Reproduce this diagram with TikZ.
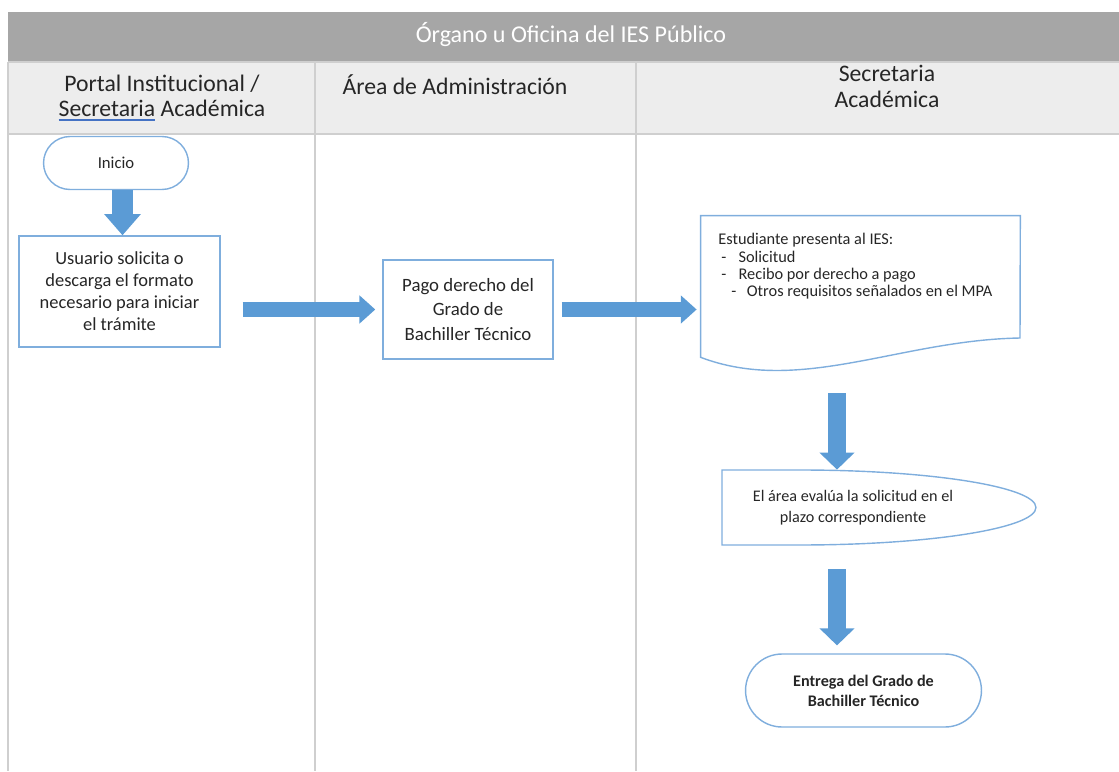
\documentclass[tikz,border=0pt]{standalone}
\usepackage{fontspec}
\setmainfont{Carlito}
\usepackage{tikz}
\usetikzlibrary{positioning,shapes.misc,arrows.meta,calc}

\definecolor{gristitulo}{HTML}{A6A6A6}
\definecolor{grisfila}{HTML}{EDEDED}
\definecolor{grislinea}{HTML}{CFCFCF}
\definecolor{azulborde}{HTML}{7FAEDD}
\definecolor{azulflecha}{HTML}{5B9BD5}
\definecolor{azulsub}{HTML}{4472C4}
\definecolor{texto}{HTML}{262626}

\newcommand{\subrayar}[1]{\setbox0\hbox{#1}\rlap{\color{azulsub}\rule[-2.6pt]{\wd0}{1.1pt}}#1}

\begin{document}
\begin{tikzpicture}[x=0.02cm,y=-0.02cm]
	\tikzset{
		caja/.style={draw=azulborde,line width=0.8pt,fill=white,align=center,text=texto,inner sep=2pt},
		terminal/.style={caja,rounded rectangle},
		cabecera/.style={align=center,text=texto,font=\fontsize{13.5}{14.5}\selectfont},
		linea/.style={draw=grislinea,line width=1pt},
		flecha/.style={draw=azulflecha,line width=9pt,-{Triangle[width=15.5pt,length=9pt]}},
		flechav/.style={draw=azulflecha,line width=10.2pt,-{Triangle[width=19.4pt,length=9.7pt]}}
	}
	\useasboundingbox (0,0) rectangle (1119,771);
	% tabla de carriles
	\fill[gristitulo] (8,12) rectangle (1119,62);
	\fill[grisfila] (8,62) rectangle (1119,134);
	\draw[linea] (8,62) -- (1119,62);
	\draw[linea] (8,134) -- (1119,134);
	\foreach \x in {8,315,636}
		\draw[linea] (\x,62) -- (\x,771);
	\node[text=white,font=\fontsize{13.7}{15}\selectfont] (titulo) at (571,35) {Órgano u Oficina del IES Público};
	\node[cabecera] (portal) at (162,98) {Portal Institucional /\\\subrayar{Secretaria} Académica};
	\node[cabecera] (admin) at (455,85) {Área de Administración};
	\node[cabecera,font=\fontsize{13.5}{14.8}\selectfont] (secre) at (887,86) {Secretaria\\Académica};
	% nodos
	\node[terminal,minimum width=3.04cm,minimum height=1.06cm,font=\fontsize{9.5}{10}\selectfont] (inicio) at (116,163) {Inicio};
	\node[caja,minimum width=4.02cm,minimum height=2.22cm,font=\fontsize{10.5}{12.5}\selectfont] (usuario) at (119.5,291.5) {Usuario solicita o\\descarga el formato\\necesario para iniciar\\el trámite};
	\node[caja,minimum width=3.4cm,minimum height=1.98cm,font=\fontsize{10.7}{14}\selectfont] (pago) at (468,309.5) {Pago derecho del\\Grado de\\Bachiller Técnico};
	\node[minimum width=6.38cm,minimum height=2.82cm,inner sep=0pt] (doc) at (860.5,286.5) {};
	\draw[draw=azulborde,line width=0.8pt] (doc.north west) -- (doc.north east) -- (1020,338)
		.. controls (900,340) and (800,395) .. (doc.south west) -- cycle;
	\node[anchor=north west,inner sep=0pt,align=left,text=texto,font=\fontsize{9.3}{9.9}\selectfont] (requisitos) at (718,233)
		{Estudiante presenta al IES:\\
		\hspace*{1.7pt}-\hspace{7pt}Solicitud\\
		\hspace*{1.7pt}-\hspace{7pt}Recibo por derecho a pago\\
		\hspace*{7.4pt}-\hspace{6pt}Otros requisitos señalados en el MPA};
	\draw[draw=azulborde,line width=0.8pt] (722,470) -- (800,470)
		arc[start angle=90,end angle=-90,x radius=4.72cm,y radius=0.75cm] -- (722,545) -- cycle;
	\node[minimum height=1.5cm,align=center,text=texto,font=\fontsize{9.2}{12}\selectfont] (evalua) at (853,507.5)
		{El área evalúa la solicitud en el\\plazo correspondiente};
	\node[terminal,minimum width=4.86cm,minimum height=1.46cm,font=\bfseries\fontsize{9.2}{11.4}\selectfont] (entrega) at (863.5,690.5)
		{Entrega del Grado de\\Bachiller Técnico};
	% flechas
	\coordinate (ejeA) at (122.5,0);
	\coordinate (ejeB) at (837,0);
	\draw[flechav,line width=12pt,-{Triangle[width=20pt,length=12pt]}] (inicio.south -| ejeA) -- (usuario.north -| ejeA);
	\draw[flecha,shorten <=12.5pt,shorten >=4pt] (usuario.east |- pago.west) -- (pago.west);
	\draw[flecha,shorten <=4.5pt,shorten >=2.3pt] (pago.east) -- (doc.west |- pago.east);
	\draw[flechav,shorten <=20.5pt] (doc.south -| ejeB) -- (evalua.north -| ejeB);
	\draw[flechav,shorten <=13.7pt,shorten >=4.5pt] (evalua.south -| ejeB) -- (entrega.north -| ejeB);
\end{tikzpicture}
\end{document}
